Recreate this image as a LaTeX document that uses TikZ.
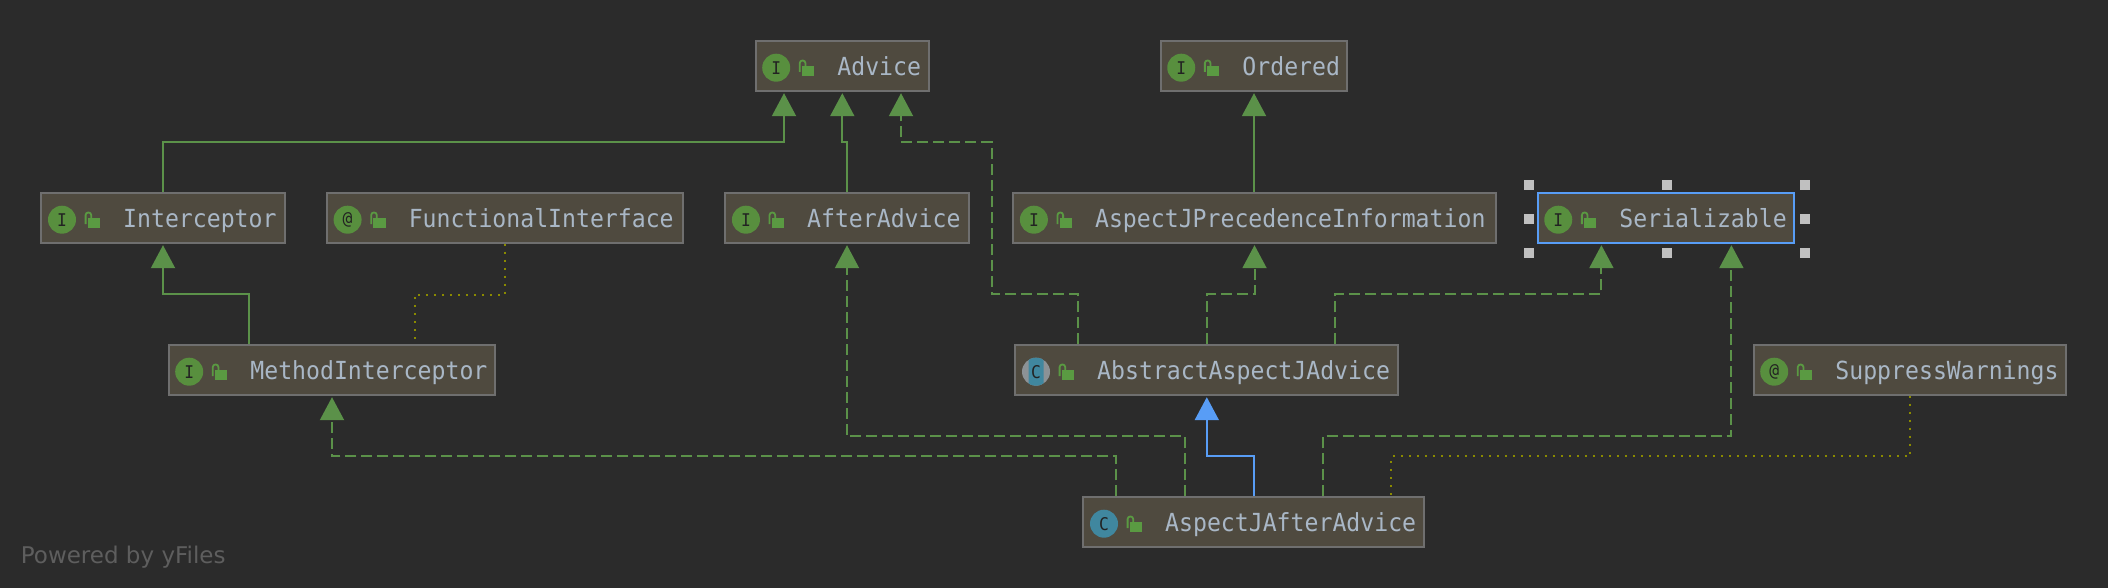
\documentclass[tikz,border=0pt]{standalone}
\usepackage{fontspec}
\setmainfont{DejaVu Sans}
\setmonofont{DejaVu Sans Mono}[FakeStretch=0.93]
\usetikzlibrary{arrows.meta}
\definecolor{bgc}{HTML}{2B2B2B}
\definecolor{boxfill}{HTML}{4F4A3F}
\definecolor{boxline}{HTML}{6F6F6F}
\definecolor{txt}{HTML}{A9B7C6}
\definecolor{grn}{HTML}{5B9149}
\definecolor{lockc}{HTML}{5A9A42}
\definecolor{ifacec}{HTML}{588F3E}
\definecolor{classc}{HTML}{40879F}
\definecolor{graybadge}{HTML}{8C9296}
\definecolor{selb}{HTML}{589DF6}
\definecolor{olive}{HTML}{8A8A00}
\definecolor{handlec}{HTML}{C0C0C0}
\definecolor{wm}{HTML}{5E5E5E}
\tikzset{
  x=1pt,y=-1pt,
  umlbox/.style={draw=boxline,fill=boxfill,line width=2pt,minimum height=49.4pt,inner sep=0pt},
  umltext/.style={anchor=base west,inner sep=0pt,text=txt,font=\ttfamily\fontsize{24.9}{28}\selectfont},
  badge/.style={circle,minimum size=28pt,inner sep=0pt,text=bgc!80!black,font=\ttfamily\fontsize{17.5}{18}\selectfont},
  tipbase/.style={-{Triangle[length=23pt,width=24pt]},shorten >=1.5pt},
  rel/.style={draw=grn,line width=2pt,tipbase},
  reldash/.style={rel,dash pattern=on 11pt off 5pt},
  relblue/.style={draw=selb,line width=2pt,tipbase},
  relanno/.style={draw=olive,line width=2pt,dash pattern=on 2pt off 6pt},
  handle/.style={fill=handlec,minimum size=10pt,inner sep=0pt},
}
% name, cx, cy, width, badge text, badge colour, label, box options
\newcommand{\umlnode}[8]{%
  \node[umlbox,minimum width=#4pt-2pt,#8] (#1) at (#2,#3) {};
  \begin{scope}[shift={(#1.west)}]
    \node[badge,fill=#6] (#1-icon) at (21.6,1.7) {#5};
    \fill[lockc] (47.3,0.3) rectangle (59.7,10);
    \draw[lockc,line width=1.8pt,rounded corners=2.6pt] (45.2,6) -- (45.2,-5.5) -- (50.8,-5.5) -- (50.8,0);
    \node[umltext] (#1-text) at (82.6,9.7) {#7};
  \end{scope}
}
\begin{document}
\begin{tikzpicture}
\fill[bgc] (0,0) rectangle (2108,588);
\useasboundingbox (0,0) rectangle (2108,588);

\umlnode{advice}{842.3}{66}{175.4}{I}{ifacec}{Advice}{}
\umlnode{ordered}{1254}{66}{188.7}{I}{ifacec}{Ordered}{}
\umlnode{interceptor}{163}{218}{245.2}{I}{ifacec}{Interceptor}{}
\umlnode{functional}{505}{218}{358}{@}{ifacec}{FunctionalInterface}{}
\umlnode{afteradvice}{847}{218}{245.3}{I}{ifacec}{AfterAdvice}{}
\umlnode{precedence}{1254.5}{218}{484.4}{I}{ifacec}{AspectJPrecedenceInformation}{}
\umlnode{serial}{1666}{218}{258.7}{I}{ifacec}{Serializable}{draw=selb}
\umlnode{method}{332}{370}{328.8}{I}{ifacec}{MethodInterceptor}{}
\umlnode{abstract}{1206.8}{370}{384.8}{}{graybadge}{AbstractAspectJAdvice}{}
\umlnode{suppress}{1910}{370}{314.8}{@}{ifacec}{SuppressWarnings}{}
\umlnode{aspect}{1253.9}{522}{343}{C}{classc}{AspectJAfterAdvice}{}

% half-gray abstract class badge
\begin{scope}
  \clip ([xshift=-7.5pt]abstract-icon.center) ++(0,-15) rectangle ++(15,30);
  \fill[classc] (abstract-icon.center) circle[radius=14pt];
\end{scope}
\node[badge] (abstract-c) at (abstract-icon.center) {C};

% selection handles
\foreach \hn/\hx/\hy in {h1/1529/185,h2/1667/185,h3/1805/185,h4/1529/219,h5/1805/219,h6/1529/253,h7/1667/253,h8/1805/253}
  \node[handle] (\hn) at (\hx,\hy) {};

% solid generalisations
\draw[rel] (interceptor.north) -- ++(0,-50) -| ([xshift=-58.3pt]advice.south);
\draw[rel] (afteradvice.north) -- ++(0,-50) -| (advice.south);
\draw[rel] (precedence.north -| ordered.south) -- (ordered.south);
\draw[rel] ([xshift=-82.7pt]method.north) -- ++(0,-50) -| (interceptor.south);

% dashed realisations
\draw[reldash] ([xshift=-128.6pt]abstract.north) -- ++(0,-50) -- ++(-86.7,0) -- ++(0,-152) -| ([xshift=58.7pt]advice.south);
\draw[reldash] (abstract.north) -- ++(0,-50) -| (precedence.south);
\draw[reldash] ([xshift=128.5pt]abstract.north) -- ++(0,-50) -| ([xshift=-64.6pt]serial.south);
\draw[reldash] ([xshift=68.6pt]aspect.north) -- ++(0,-60) -| ([xshift=65.4pt]serial.south);
\draw[reldash] ([xshift=-68.7pt]aspect.north) -- ++(0,-60) -| (afteradvice.south);
\draw[reldash] ([xshift=-137.6pt]aspect.north) -- ++(0,-40) -| (method.south);

% extends (blue)
\draw[relblue] (aspect.north) -- ++(0,-40) -| (abstract.south);

% annotations
\draw[relanno] (functional.south) -- ++(0,51) -| ([xshift=82.6pt]method.north);
\draw[relanno] (suppress.south) -- ++(0,60.5) -| ([xshift=137.5pt]aspect.north);

\node[anchor=base west,inner sep=0pt,text=wm,font=\fontsize{23}{26}\selectfont] (wmark) at (20.7,563.5) {Powered by yFiles};
\end{tikzpicture}
\end{document}
